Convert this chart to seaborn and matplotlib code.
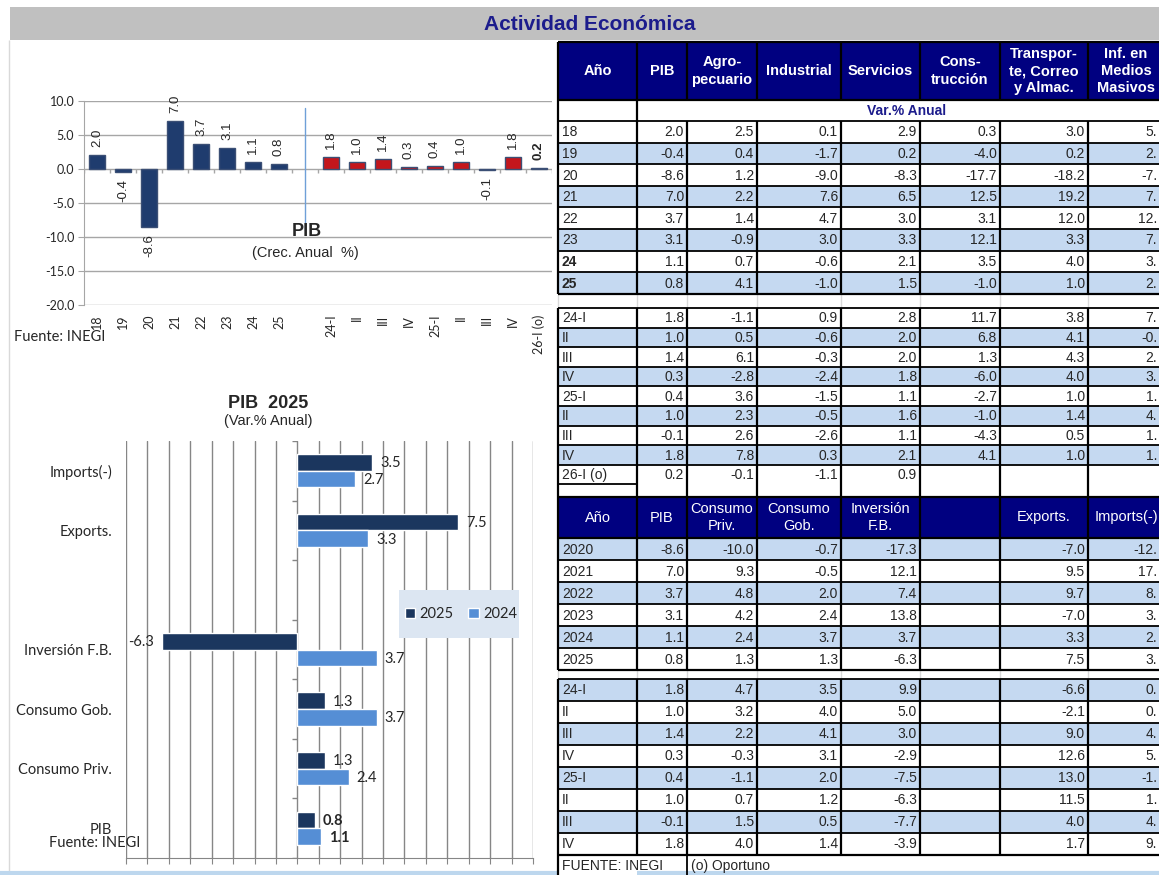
import matplotlib
matplotlib.use("Agg")
import matplotlib.pyplot as plt
from matplotlib.patches import Rectangle
import seaborn as sns
import pandas as pd
import numpy as np

# ---------------- datos: oferta (var. % anual) ----------------
anios = ["18", "19", "20", "21", "22", "23", "24", "25"]
trimestres = ["24-I", "II", "III", "IV", "25-I", "II", "III", "IV", "26-I (o)"]

pib_anual = [2.0, -0.4, -8.6, 7.0, 3.7, 3.1, 1.1, 0.8]
agro_anual = [2.5, 0.4, 1.2, 2.2, 1.4, -0.9, 0.7, 4.1]
ind_anual = [0.1, -1.7, -9.0, 7.6, 4.7, 3.0, -0.6, -1.0]
serv_anual = [2.9, 0.2, -8.3, 6.5, 3.0, 3.3, 2.1, 1.5]
constr_anual = [0.3, -4.0, -17.7, 12.5, 3.1, 12.1, 3.5, -1.0]
transp_anual = [3.0, 0.2, -18.2, 19.2, 12.0, 3.3, 4.0, 1.0]
medios_anual = ["5.", "2.", "-7.", "7.", "12.", "7.", "3.", "2."]  # columna cortada

pib_trim = [1.8, 1.0, 1.4, 0.3, 0.4, 1.0, -0.1, 1.8, 0.2]
agro_trim = [-1.1, 0.5, 6.1, -2.8, 3.6, 2.3, 2.6, 7.8, -0.1]
ind_trim = [0.9, -0.6, -0.3, -2.4, -1.5, -0.5, -2.6, 0.3, -1.1]
serv_trim = [2.8, 2.0, 2.0, 1.8, 1.1, 1.6, 1.1, 2.1, 0.9]
constr_trim = [11.7, 6.8, 1.3, -6.0, -2.7, -1.0, -4.3, 4.1, None]
transp_trim = [3.8, 4.1, 4.3, 4.0, 1.0, 1.4, 0.5, 1.0, None]
medios_trim = ["7.", "-0.", "2.", "3.", "1.", "4.", "1.", "1.", ""]

# ---------------- datos: demanda ----------------
anios_gasto = ["2020", "2021", "2022", "2023", "2024", "2025"]
trim_gasto = ["24-I", "II", "III", "IV", "25-I", "II", "III", "IV"]

pib_g_anual = [-8.6, 7.0, 3.7, 3.1, 1.1, 0.8]
cpriv_anual = [-10.0, 9.3, 4.8, 4.2, 2.4, 1.3]
cgob_anual = [-0.7, -0.5, 2.0, 2.4, 3.7, 1.3]
inv_anual = [-17.3, 12.1, 7.4, 13.8, 3.7, -6.3]
expo_anual = [-7.0, 9.5, 9.7, -7.0, 3.3, 7.5]
impo_anual = ["-12.", "17.", "8.", "3.", "2.", "3."]  # columna cortada

pib_g_trim = [1.8, 1.0, 1.4, 0.3, 0.4, 1.0, -0.1, 1.8]
cpriv_trim = [4.7, 3.2, 2.2, -0.3, -1.1, 0.7, 1.5, 4.0]
cgob_trim = [3.5, 4.0, 4.1, 3.1, 2.0, 1.2, 0.5, 1.4]
inv_trim = [9.9, 5.0, 3.0, -2.9, -7.5, -6.3, -7.7, -3.9]
expo_trim = [-6.6, -2.1, 9.0, 12.6, 13.0, 11.5, 4.0, 1.7]
impo_trim = ["0.", "0.", "4.", "5.", "-1.", "1.", "4.", "9."]

# grafica PIB 2025 por componente
componentes = ["PIB", "Consumo Priv.", "Consumo Gob.", "Inversión F.B.", "Exports.", "Imports(-)"]
gasto_2025 = [0.8, 1.3, 1.3, -6.3, 7.5, 3.5]
gasto_2024 = [1.1, 2.4, 3.7, 3.7, 3.3, 2.7]

# ---------------- estilo ----------------
sns.set_style("white")
plt.rcParams["font.family"] = ["Liberation Sans", "DejaVu Sans"]
CAL = ["Lato", "DejaVu Sans"]

NAVY = "#1F3C6E"
ROJO = "#C4161C"
NAVY2 = "#1B365E"
CLARO = "#558ED5"
AZUL_FILA = "#C5D9F1"
HEAD = "#000080"
GRIS = "#A6A6A6"

W, H = 1159, 875
fig = plt.figure(figsize=(W / 100, H / 100), dpi=100)
bg = fig.add_axes([0, 0, 1, 1])
bg.set_xlim(0, W)
bg.set_ylim(H, 0)
bg.axis("off")


def ftext(x, y, s, **kw):
    return fig.text(x / W, 1 - y / H, s, **kw)


def rect(x, y, w, h, color, **kw):
    bg.add_patch(Rectangle((x, y), w, h, facecolor=color, edgecolor="none", **kw))


def hline(y, x0, x1, **kw):
    bg.plot([x0, x1], [y, y], solid_capstyle="butt", **kw)


def vline(x, y0, y1, **kw):
    bg.plot([x, x], [y0, y1], solid_capstyle="butt", **kw)


# barra de titulo
rect(10, 7, W - 10, 33, "#C0C0C0")
bg.text(590, 24, "Actividad Económica", ha="center", va="center",
        fontsize=15, fontweight="bold", color="#1C1C8C")
vline(9, 40, 872, color="#D9D9D9", lw=1)
hline(873, 0, 558, color="#BDD7EE", lw=3)
hline(873, 637, W, color="#BDD7EE", lw=3)

# ---------------- tabla ----------------
cols = [558, 637, 687, 757, 841, 920, 1000, 1088, 1176]
X_CORTE = 1157  # ultima columna queda cortada por el borde


def encabezado(y0, y1, textos, bold, interlineado):
    rect(cols[0], y0, cols[-1] - cols[0], y1 - y0, HEAD)
    for j, t in enumerate(textos):
        xc = (cols[j] + cols[j + 1]) / 2
        if j == len(textos) - 1:
            xc = 1126
        bg.text(xc, (y0 + y1) / 2, t, ha="center", va="center", color="white",
                fontsize=10.5, fontweight="bold" if bold else "normal",
                linespacing=interlineado)
    for x in cols[:-1]:
        vline(x, y0, y1, color="black", lw=1.6)
    hline(y0, cols[0], cols[-1], color="black", lw=1.6)
    hline(y1, cols[0], cols[-1], color="black", lw=1.6)


def fmt(v):
    if v is None:
        return ""
    if isinstance(v, str):
        return v
    return f"{v:.1f}"


def filas(y0, alto, etiquetas, columnas, azul_en, negritas=(), linea_final=True):
    n = len(etiquetas)
    for i, etq in enumerate(etiquetas):
        top = y0 + i * alto
        fill = AZUL_FILA if i % 2 == azul_en else "white"
        rect(cols[0], top, cols[-1] - cols[0], alto, fill)
        yc = top + alto / 2 + 0.5
        bg.text(cols[0] + 4, yc, etq, ha="left", va="center", fontsize=10,
                fontweight="bold" if etq in negritas else "normal")
        for j, col in enumerate(columnas):
            s = fmt(col[i])
            xr = X_CORTE if j == len(columnas) - 1 else cols[j + 2] - 3
            bg.text(xr, yc, s, ha="right", va="center", fontsize=10)
    for i in range(n + (1 if linea_final else 0)):
        hline(y0 + i * alto, cols[0], cols[-1], color="black", lw=1.3)
    for x in cols[:-1]:
        vline(x, y0, y0 + n * alto, color="black", lw=1.6)


# tabla 1: oferta
encabezado(42, 100, ["Año", "PIB", "Agro-\npecuario", "Industrial", "Servicios",
                     "Cons-\ntrucción", "Transpor-\nte, Correo\ny Almac.",
                     "Inf. en\nMedios\nMasivos"], True, 1.3)
rect(cols[0], 100, cols[-1] - cols[0], 21, "white")
bg.text((cols[1] + cols[-1]) / 2, 111, "Var.% Anual", ha="center", va="center",
        fontsize=10, fontweight="bold", color="#1C1C8C")
vline(cols[0], 100, 121, color="black", lw=1.6)
vline(cols[1], 100, 121, color="black", lw=1.6)

filas(121, 21.6, anios, [pib_anual, agro_anual, ind_anual, serv_anual,
                         constr_anual, transp_anual, medios_anual],
      azul_en=1, negritas=("24", "25"))
for x in cols[:-1]:
    vline(x, 294, 308, color="#D9D9D9", lw=1)
hline(294, cols[0], cols[-1], color="black", lw=1.6)

filas(308, 19.6, trimestres, [pib_trim, agro_trim, ind_trim, serv_trim,
                              constr_trim, transp_trim, medios_trim],
      azul_en=1, linea_final=False)
hline(484.4, cols[0], cols[1], color="black", lw=1.3)
for x in cols[:-1]:
    vline(x, 484, 497, color="black", lw=1.6)

# tabla 2: demanda
encabezado(497, 538, ["Año", "PIB", "Consumo\nPriv.", "Consumo\nGob.", "Inversión\nF.B.",
                      "", "Exports.", "Imports(-)"], False, 1.35)
filas(538, 22, anios_gasto, [pib_g_anual, cpriv_anual, cgob_anual, inv_anual,
                             [None] * 6, expo_anual, impo_anual], azul_en=0)
for x in cols[:-1]:
    vline(x, 670, 679, color="#D9D9D9", lw=1)
hline(670, cols[0], cols[-1], color="black", lw=1.6)
filas(679, 22, trim_gasto, [pib_g_trim, cpriv_trim, cgob_trim, inv_trim,
                            [None] * 8, expo_trim, impo_trim], azul_en=0)
hline(855, cols[0], cols[-1], color="black", lw=1.6)
vline(cols[0], 855, 875, color="black", lw=1.6)
vline(cols[2], 855, 875, color="black", lw=1.3)
bg.text(cols[0] + 4, 866, "FUENTE: INEGI", ha="left", va="center", fontsize=10)
bg.text(cols[2] + 4, 866, "(o) Oportuno", ha="left", va="center", fontsize=10)

# ---------------- grafica 1: PIB crecimiento anual ----------------
ax1 = fig.add_axes([84 / W, 1 - 305 / H, 468 / W, 204 / H])
ax1.patch.set_visible(False)
pos_ids = [f"p{i}" for i in range(len(anios) + 1 + len(trimestres))]
ids_dato = pos_ids[:len(anios)] + pos_ids[len(anios) + 1:]
vals_top = pib_anual + pib_trim
grupo = ["anual"] * len(pib_anual) + ["trim"] * (len(pib_trim) - 1) + ["oportuno"]
df_top = pd.DataFrame({"pos": ids_dato, "pib": vals_top, "grupo": grupo})
sns.barplot(data=df_top, x="pos", y="pib", hue="grupo", order=pos_ids, dodge=False,
            width=0.6, palette={"anual": NAVY, "trim": ROJO, "oportuno": NAVY},
            saturation=1, edgecolor="#3B4F75", linewidth=1, legend=False,
            errorbar=None, ax=ax1, zorder=3)
for k, (pid, v) in enumerate(zip(ids_dato, vals_top)):
    xp = pos_ids.index(pid)
    ax1.annotate(f"{v:.1f}", (xp, v), xytext=(0, 8 if v >= 0 else -7),
                 textcoords="offset pixels", rotation=90, ha="center",
                 va="bottom" if v >= 0 else "top", fontsize=9.5,
                 fontweight="bold" if k == len(vals_top) - 1 else "normal")
ax1.set_xlim(-0.5, len(pos_ids) - 0.5)
ax1.set_ylim(-20, 10)
ax1.set_yticks(np.arange(-20, 11, 5))
ax1.set_yticklabels([f"{t:.1f}" for t in np.arange(-20, 11, 5)], family=CAL, fontsize=9)
ax1.set_xticks(range(len(pos_ids)))
ax1.set_xticklabels(anios + [""] + trimestres, rotation=90, family=CAL, fontsize=9)
ax1.tick_params(axis="x", length=0, pad=7)
ax1.tick_params(axis="y", length=4, color=GRIS, pad=3, left=True)
ax1.grid(axis="y", color=GRIS, lw=1)
ax1.set_axisbelow(True)
for s in ["top", "right", "bottom"]:
    ax1.spines[s].set_visible(False)
ax1.spines["left"].set_color(GRIS)
ax1.vlines(np.arange(-0.5, len(pos_ids)), -0.6, 0, color=GRIS, lw=1)
ax1.plot([len(anios), len(anios)], [-9, 9], color="#6FA0D8", lw=1)
ax1.set_xlabel("")
ax1.set_ylabel("")
ftext(307, 232, "PIB", ha="center", va="center", fontsize=13, fontweight="bold")
ftext(305, 253, "(Crec. Anual  %)", ha="center", va="center", fontsize=10.5)
ftext(14, 337, "Fuente: INEGI", ha="left", va="center", fontsize=10.5, family=CAL)

# ---------------- grafica 2: PIB 2025 por componente ----------------
ax2 = fig.add_axes([126 / W, 1 - 858 / H, 407 / W, 417 / H])
ax2.patch.set_visible(False)
orden = ["Imports(-)", "Exports.", " ", "Inversión F.B.", "Consumo Gob.",
         "Consumo Priv.", "PIB"]
df_g = pd.DataFrame({"comp": componentes * 2, "var": gasto_2025 + gasto_2024,
                     "anio": ["2025"] * len(gasto_2025) + ["2024"] * len(gasto_2024)})
sns.barplot(data=df_g, y="comp", x="var", hue="anio", order=orden,
            hue_order=["2025", "2024"], palette=[NAVY2, CLARO], width=0.56,
            saturation=1, errorbar=None, orient="h", ax=ax2, zorder=3)
for vals, off in ((gasto_2025, -0.14), (gasto_2024, 0.14)):
    for comp, v in zip(componentes, vals):
        yp = orden.index(comp) + off
        ax2.annotate(f"{v:.1f}", (v, yp), xytext=(8 if v >= 0 else -8, -1),
                     textcoords="offset pixels", ha="left" if v >= 0 else "right",
                     va="center", fontsize=10.5, family=CAL, color="#262626",
                     fontweight="bold" if comp == "PIB" else "normal")
ax2.set_xlim(-8, 11)
ax2.set_ylim(len(orden) - 0.5, -0.5)
ax2.set_xticks(range(-8, 12))
ax2.tick_params(axis="x", labelbottom=False, length=4, color="#868686", bottom=True)
ax2.set_yticks(range(len(orden)))
ax2.set_yticklabels(orden, family=CAL, fontsize=10.5, color="#262626")
ax2.tick_params(axis="y", length=0, pad=10)
ax2.grid(axis="x", color="#868686", lw=1)
ax2.grid(axis="y", visible=False)
ax2.set_axisbelow(True)
for s in ["top", "right", "left"]:
    ax2.spines[s].set_visible(False)
ax2.spines["bottom"].set_color("#868686")
ax2.hlines(np.arange(-0.5, len(orden)), -0.25, 0, color="#868686", lw=1)
ax2.set_xlabel("")
ax2.set_ylabel("")
ax2.add_patch(Rectangle((399 / W, 1 - 638 / H), 120 / W, 48 / H,
                        transform=fig.transFigure, facecolor="#DCE6F2",
                        edgecolor="none", zorder=4))
handles, labels = ax2.get_legend_handles_labels()
leg = ax2.legend(handles, labels, ncol=2, loc="center",
                 bbox_to_anchor=(461 / W, 1 - 614 / H), bbox_transform=fig.transFigure,
                 frameon=False, handlelength=0.7, handleheight=0.7, handletextpad=0.3,
                 columnspacing=1.0, prop={"family": CAL, "size": 10.5})
leg.set_zorder(5)
ftext(268, 403, "PIB  2025", ha="center", va="center", fontsize=13, fontweight="bold")
ftext(268, 421, "(Var.% Anual)", ha="center", va="center", fontsize=10.5)
ftext(140, 843, "Fuente: INEGI", ha="right", va="center", fontsize=10.5,
      family=CAL, color="#262626")

fig.savefig("out.png", dpi=100)
